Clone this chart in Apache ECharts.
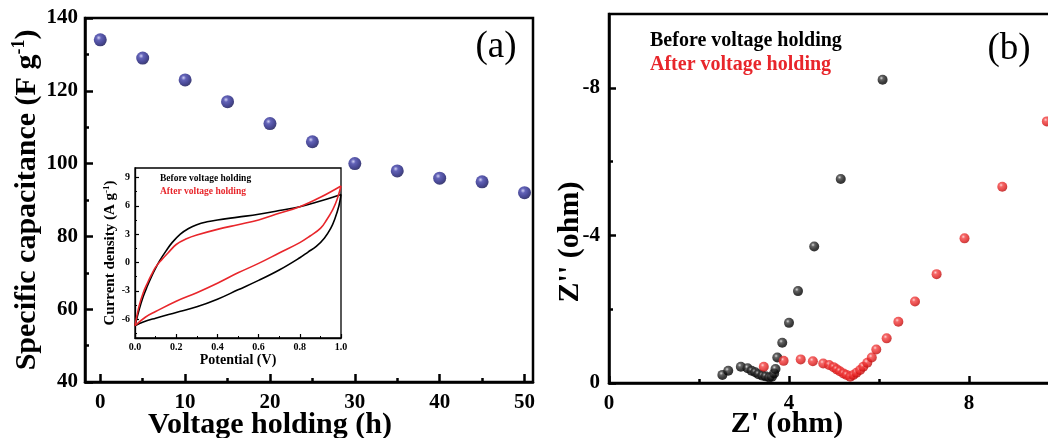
<!DOCTYPE html>
<html><head><meta charset="utf-8">
<script src="https://cdn.jsdelivr.net/npm/echarts@6/dist/echarts.min.js"></script>
<style>html,body{margin:0;padding:0;background:#fff}#c{width:1048px;height:438px}</style>
</head><body><div id="c"></div>
<script>
// ---------- Panel (a): capacitance vs voltage-holding time ----------
const hours = [0, 5, 10, 15, 20, 25, 30, 35, 40, 45, 50];
const capacitance = [134, 129, 123, 117, 111, 106, 100, 98, 96, 95, 92];
const hourTicks = [0, 10, 20, 30, 40, 50];
const hourMinorTicks = [5, 15, 25, 35, 45];

// ---------- Inset: CV curves ----------
const cvBeforeUpV = [0.00,0.02,0.04,0.06,0.08,0.10,0.12,0.15,0.18,0.22,0.26,0.30,0.35,0.40,0.50,0.60,0.70,0.80,0.90,0.96,1.00];
const cvBeforeUpJ = [-6.7,-5.0,-3.6,-2.5,-1.5,-0.6,0.2,1.2,2.1,3.0,3.6,4.0,4.3,4.5,4.8,5.1,5.5,5.9,6.5,6.9,7.2];
const cvBeforeDownV = [1.00,0.99,0.97,0.95,0.92,0.88,0.84,0.80,0.70,0.60,0.50,0.40,0.30,0.20,0.10,0.04,0.00];
const cvBeforeDownJ = [7.2,6.0,4.6,3.6,2.6,1.7,1.1,0.5,-0.8,-1.9,-2.9,-3.9,-4.7,-5.3,-5.9,-6.3,-6.7];
const cvAfterUpV = [0.00,0.02,0.04,0.06,0.08,0.10,0.13,0.16,0.20,0.25,0.30,0.40,0.50,0.60,0.70,0.80,0.90,1.00];
const cvAfterUpJ = [-6.7,-4.6,-3.2,-2.2,-1.3,-0.5,0.3,1.0,1.9,2.5,2.9,3.5,4.0,4.5,5.2,5.9,6.9,8.1];
const cvAfterDownV = [1.00,0.98,0.96,0.93,0.90,0.85,0.80,0.70,0.60,0.50,0.40,0.30,0.20,0.10,0.05,0.00];
const cvAfterDownJ = [8.1,6.6,5.6,4.5,3.6,2.8,2.1,1.0,-0.1,-1.1,-2.2,-3.2,-4.1,-5.2,-5.8,-6.7];
const cvCurrentTicks = [-6, -3, 0, 3, 6, 9];
const cvCurrentMinorTicks = [-7.5, -4.5, -1.5, 1.5, 4.5, 7.5];

// ---------- Panel (b): Nyquist plots (Z' and -Z'') ----------
const eisBeforeRe = [2.52,2.65,2.93,3.08,3.17,3.25,3.32,3.41,3.48,3.56,3.62,3.67,3.70,3.74,3.85,4.00,4.20,4.56,5.15,6.08];
const eisBeforeNegIm = [0.22,0.33,0.44,0.40,0.33,0.29,0.24,0.20,0.18,0.15,0.17,0.26,0.38,0.69,1.09,1.63,2.49,3.70,5.53,8.22];
const eisAfterRe = [3.44,3.88,4.26,4.53,4.76,4.89,4.99,5.06,5.13,5.21,5.28,5.36,5.43,5.50,5.58,5.65,5.74,5.84,5.94,6.17,6.43,6.80,7.28,7.90,8.74,9.73];
const eisAfterNegIm = [0.44,0.60,0.64,0.59,0.53,0.49,0.43,0.37,0.32,0.26,0.22,0.17,0.22,0.28,0.35,0.44,0.55,0.69,0.91,1.21,1.66,2.21,2.95,3.92,5.32,7.09];
const negImTicks = [0, 4, 8];
const negImMinorTicks = [2, 6];

const F = 'Liberation Serif';
const RED = '#e8262b';
const zip = (a, b) => a.map((v, i) => [v, b[i]]);
function sphere(c0, c1, c2, c3) {
  return {type: 'radial', x: 0.38, y: 0.34, r: 0.66,
    colorStops: [{offset: 0, color: c0}, {offset: 0.28, color: c1}, {offset: 0.72, color: c2}, {offset: 1, color: c3}]};
}
const lbl = (size, extra) => Object.assign({fontFamily: F, fontWeight: 'bold', fontSize: size, color: '#000'}, extra || {});
const line = (w) => ({show: true, onZero: false, lineStyle: {color: '#000', width: w}});

const chart = echarts.init(document.getElementById('c'), null, {renderer: 'canvas'});
const option = {
  animation: false,
  backgroundColor: '#fff',
  grid: [
    {left: 85, top: 18, width: 448, height: 364, show: true, borderColor: '#000', borderWidth: 2.5, outerBoundsMode: 'none', containLabel: false},
    {left: 135, top: 168, width: 206, height: 170, show: true, borderColor: '#000', borderWidth: 1.3, outerBoundsMode: 'none', containLabel: false},
    {left: 609, top: 14, width: 540, height: 369, show: true, borderColor: '#000', borderWidth: 2.5, outerBoundsMode: 'none', containLabel: false}
  ],
  xAxis: [
    {gridIndex: 0, type: 'value', position: 'bottom', min: -1.8, max: 51, axisLine: line(2.5),
      axisTick: {show: true, inside: true, length: 8, lineStyle: {color: '#000', width: 2.5}, customValues: hourTicks},
      axisLabel: lbl(21, {margin: 10, customValues: hourTicks}), splitLine: {show: false}},
    {gridIndex: 0, type: 'value', position: 'bottom', min: -1.8, max: 51, axisLine: {show: false, onZero: false},
      axisTick: {show: true, inside: true, length: 4, lineStyle: {color: '#000', width: 2.5}, customValues: hourMinorTicks},
      axisLabel: {show: false}, splitLine: {show: false}},
    {gridIndex: 1, type: 'value', position: 'bottom', min: 0, max: 1, interval: 0.2, axisLine: line(1.3),
      axisTick: {show: true, inside: true, length: 4, lineStyle: {color: '#000', width: 1.2}},
      minorTick: {show: true, splitNumber: 2, length: 2, lineStyle: {color: '#000', width: 1}},
      axisLabel: lbl(10, {margin: 4, formatter: v => v.toFixed(1)}), splitLine: {show: false},
      name: 'Potential (V)', nameLocation: 'middle', nameGap: 11, nameTextStyle: lbl(14)},
    {gridIndex: 2, type: 'value', position: 'bottom', min: 0, max: 12, interval: 4, axisLine: line(2.5),
      axisTick: {show: true, inside: true, length: 7, lineStyle: {color: '#000', width: 2.5}},
      minorTick: {show: true, splitNumber: 2, length: 4, lineStyle: {color: '#000', width: 2.5}},
      axisLabel: lbl(21, {margin: 10, formatter: v => (v % 4 === 0 && v < 12) ? String(v) : ''}), splitLine: {show: false}}
  ],
  yAxis: [
    {gridIndex: 0, type: 'value', position: 'left', min: 40, max: 140, interval: 20, axisLine: line(2.5),
      axisTick: {show: true, inside: true, length: 8, lineStyle: {color: '#000', width: 2.5}},
      minorTick: {show: true, splitNumber: 2, length: 4, lineStyle: {color: '#000', width: 2.5}},
      axisLabel: lbl(21, {margin: 7}), splitLine: {show: false},
      name: '{t|Specific capacitance (F g}{s|-1}{t|)}', nameLocation: 'middle', nameGap: 35, nameRotate: 90,
      nameTextStyle: {rich: {t: lbl(30, {lineHeight: 34}), s: lbl(18, {lineHeight: 18, verticalAlign: 'top'})}}},
    {gridIndex: 1, type: 'value', position: 'left', min: -8, max: 10, axisLine: line(1.3),
      axisTick: {show: true, inside: true, length: 4, lineStyle: {color: '#000', width: 1.2}, customValues: cvCurrentTicks},
      axisLabel: lbl(10, {margin: 5, customValues: cvCurrentTicks}), splitLine: {show: false},
      name: '{t|Current density (A g}{s|-1}{t|)}', nameLocation: 'middle', nameGap: 13, nameRotate: 90,
      nameTextStyle: {rich: {t: lbl(15, {lineHeight: 17}), s: lbl(9, {lineHeight: 9, verticalAlign: 'top'})}}},
    {gridIndex: 1, type: 'value', position: 'left', min: -8, max: 10, axisLine: {show: false, onZero: false},
      axisTick: {show: true, inside: true, length: 2, lineStyle: {color: '#000', width: 1}, customValues: cvCurrentMinorTicks},
      axisLabel: {show: false}, splitLine: {show: false}},
    {gridIndex: 2, type: 'value', position: 'left', min: 0, max: 10, axisLine: line(2.5),
      axisTick: {show: true, inside: true, length: 7, lineStyle: {color: '#000', width: 2.5}, customValues: negImTicks},
      axisLabel: lbl(21, {margin: 9, customValues: negImTicks, formatter: v => v === 0 ? '0' : '-' + v}), splitLine: {show: false}},
    {gridIndex: 2, type: 'value', position: 'left', min: 0, max: 10, axisLine: {show: false, onZero: false},
      axisTick: {show: true, inside: true, length: 4, lineStyle: {color: '#000', width: 2.5}, customValues: negImMinorTicks},
      axisLabel: {show: false}, splitLine: {show: false}}
  ],
  series: [
    {type: 'scatter', xAxisIndex: 0, yAxisIndex: 0, data: zip(hours, capacitance), symbolSize: 13,
      itemStyle: {color: sphere('#c4c4f2', '#3c3ca6', '#1c1c7c', '#0e0e52')}},
    {type: 'line', xAxisIndex: 2, yAxisIndex: 1, data: zip(cvBeforeUpV, cvBeforeUpJ), smooth: 0.4, showSymbol: false,
      lineStyle: {color: '#000', width: 1.6}},
    {type: 'line', xAxisIndex: 2, yAxisIndex: 1, data: zip(cvBeforeDownV, cvBeforeDownJ), smooth: 0.4, showSymbol: false,
      lineStyle: {color: '#000', width: 1.6}},
    {type: 'line', xAxisIndex: 2, yAxisIndex: 1, data: zip(cvAfterUpV, cvAfterUpJ), smooth: 0.4, showSymbol: false,
      lineStyle: {color: RED, width: 1.6}},
    {type: 'line', xAxisIndex: 2, yAxisIndex: 1, data: zip(cvAfterDownV, cvAfterDownJ), smooth: 0.4, showSymbol: false,
      lineStyle: {color: RED, width: 1.6}},
    {type: 'scatter', xAxisIndex: 3, yAxisIndex: 3, data: zip(eisBeforeRe, eisBeforeNegIm), symbolSize: 10,
      itemStyle: {color: sphere('#cfcfcf', '#3c3c3c', '#0a0a0a', '#000000')}},
    {type: 'scatter', xAxisIndex: 3, yAxisIndex: 3, data: zip(eisAfterRe, eisAfterNegIm), symbolSize: 10,
      itemStyle: {color: sphere('#ffc8c8', '#f24242', '#e01c1c', '#b80c0c')}}
  ],
  graphic: [
    {type: 'text', x: 496, y: 47, style: {text: '(a)', font: '37px "Liberation Serif"', fill: '#000', align: 'center', verticalAlign: 'middle', textAlign: 'center', textVerticalAlign: 'middle'}},
    {type: 'text', x: 1009, y: 49, style: {text: '(b)', font: '37px "Liberation Serif"', fill: '#000', align: 'center', verticalAlign: 'middle', textAlign: 'center', textVerticalAlign: 'middle'}},
    {type: 'text', x: 650, y: 41, style: {text: 'Before voltage holding', font: 'bold 20px "Liberation Serif"', fill: '#000', verticalAlign: 'middle', textVerticalAlign: 'middle'}},
    {type: 'text', x: 650, y: 65, style: {text: 'After voltage holding', font: 'bold 20px "Liberation Serif"', fill: RED, verticalAlign: 'middle', textVerticalAlign: 'middle'}},
    {type: 'text', x: 160, y: 179, style: {text: 'Before voltage holding', font: 'bold 9.5px "Liberation Serif"', fill: '#000', verticalAlign: 'middle', textVerticalAlign: 'middle'}},
    {type: 'text', x: 160, y: 191.5, style: {text: 'After voltage holding', font: 'bold 9.5px "Liberation Serif"', fill: RED, verticalAlign: 'middle', textVerticalAlign: 'middle'}},
    {type: 'text', x: 270, y: 425, style: {text: 'Voltage holding (h)', font: 'bold 30px "Liberation Serif"', fill: '#000', align: 'center', verticalAlign: 'middle', textAlign: 'center', textVerticalAlign: 'middle'}},
    {type: 'text', x: 787, y: 424, style: {text: "Z' (ohm)", font: 'bold 30px "Liberation Serif"', fill: '#000', align: 'center', verticalAlign: 'middle', textAlign: 'center', textVerticalAlign: 'middle'}},
    {type: 'text', x: 570, y: 242, rotation: Math.PI / 2, style: {text: "Z'' (ohm)", font: 'bold 30px "Liberation Serif"', fill: '#000', align: 'center', verticalAlign: 'middle', textAlign: 'center', textVerticalAlign: 'middle'}}
  ]
};
chart.setOption(option);
</script>
</body></html>
